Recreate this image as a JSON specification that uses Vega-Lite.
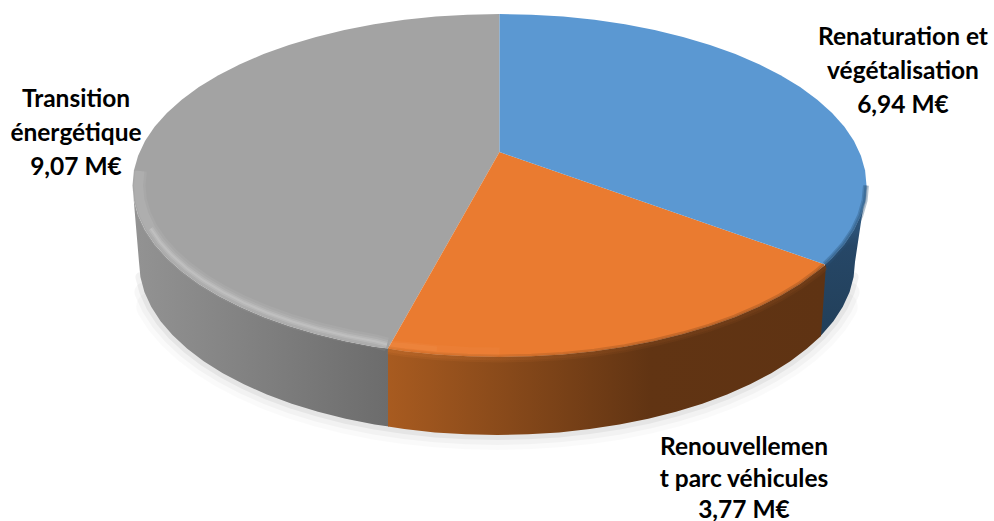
{
"$schema":"https://vega.github.io/schema/vega-lite/v6.json",
"width":994,"height":521,
"autosize":{"type":"none"},
"padding":0,
"background":"#ffffff",
"config":{"view":{"stroke":null}},
"datasets":{
"floor":[{"x":855,"y":262},{"x":853.6,"y":277.1},{"x":849.6,"y":292},{"x":842.8,"y":306.8},{"x":833.4,"y":321.2},{"x":821.5,"y":335.1},{"x":807,"y":348.5},{"x":790.3,"y":361.2},{"x":771.2,"y":373.2},{"x":750.1,"y":384.3},{"x":727.1,"y":394.5},{"x":702.3,"y":403.7},{"x":676,"y":411.8},{"x":648.3,"y":418.8},{"x":619.4,"y":424.6},{"x":589.7,"y":429.1},{"x":559.2,"y":432.4},{"x":528.2,"y":434.3},{"x":497,"y":435},{"x":465.8,"y":434.3},{"x":434.8,"y":432.4},{"x":404.3,"y":429.1},{"x":374.6,"y":424.6},{"x":345.7,"y":418.8},{"x":318,"y":411.8},{"x":291.7,"y":403.7},{"x":266.9,"y":394.5},{"x":243.9,"y":384.3},{"x":222.8,"y":373.2},{"x":203.7,"y":361.2},{"x":187,"y":348.5},{"x":172.5,"y":335.1},{"x":160.6,"y":321.2},{"x":151.2,"y":306.8},{"x":144.4,"y":292},{"x":140.4,"y":277.1},{"x":139,"y":262}],
"greyWall":[{"x":132.5,"y":185.5},{"x":133.9,"y":200.4},{"x":138.1,"y":215.3},{"x":145,"y":229.9},{"x":154.6,"y":244.2},{"x":166.9,"y":258},{"x":181.7,"y":271.3},{"x":198.9,"y":283.9},{"x":218.4,"y":295.7},{"x":240,"y":306.8},{"x":263.6,"y":316.9},{"x":289,"y":326},{"x":316,"y":334},{"x":344.4,"y":340.9},{"x":374,"y":346.7},{"x":389,"y":348.5},{"x":389,"y":426.5},{"x":374.6,"y":424.6},{"x":345.7,"y":418.8},{"x":318,"y":411.8},{"x":291.7,"y":403.7},{"x":266.9,"y":394.5},{"x":243.9,"y":384.3},{"x":222.8,"y":373.2},{"x":203.7,"y":361.2},{"x":187,"y":348.5},{"x":172.5,"y":335.1},{"x":160.6,"y":321.2},{"x":151.2,"y":306.8},{"x":144.4,"y":292},{"x":140.4,"y":277.1},{"x":139,"y":262}],
"orangeWall":[{"x":388,"y":348.5},{"x":404.5,"y":351.2},{"x":435.8,"y":354.4},{"x":467.5,"y":356.3},{"x":499.5,"y":357},{"x":531.5,"y":356.3},{"x":563.2,"y":354.4},{"x":594.5,"y":351.2},{"x":625,"y":346.7},{"x":654.6,"y":340.9},{"x":683,"y":334},{"x":710,"y":326},{"x":735.4,"y":316.9},{"x":759,"y":306.8},{"x":780.6,"y":295.7},{"x":800.1,"y":283.9},{"x":817.3,"y":271.3},{"x":826,"y":264.5},{"x":821,"y":336},{"x":807,"y":348.5},{"x":790.3,"y":361.2},{"x":771.2,"y":373.2},{"x":750.1,"y":384.3},{"x":727.1,"y":394.5},{"x":702.3,"y":403.7},{"x":676,"y":411.8},{"x":648.3,"y":418.8},{"x":619.4,"y":424.6},{"x":589.7,"y":429.1},{"x":559.2,"y":432.4},{"x":528.2,"y":434.3},{"x":497,"y":435},{"x":465.8,"y":434.3},{"x":434.8,"y":432.4},{"x":404.3,"y":429.1},{"x":388,"y":426.5}],
"blueWall":[{"x":866.5,"y":185.5},{"x":865.1,"y":200.4},{"x":860.9,"y":215.3},{"x":854,"y":229.9},{"x":844.4,"y":244.2},{"x":832.1,"y":258},{"x":825,"y":264.5},{"x":820,"y":336},{"x":821.5,"y":335.1},{"x":833.4,"y":321.2},{"x":842.8,"y":306.8},{"x":849.6,"y":292},{"x":853.6,"y":277.1},{"x":855,"y":262}],
"topBlue":[{"x":499.5,"y":152},{"x":499.5,"y":14},{"x":531.5,"y":14.7},{"x":563.2,"y":16.6},{"x":594.5,"y":19.8},{"x":625,"y":24.3},{"x":654.6,"y":30.1},{"x":683,"y":37},{"x":710,"y":45},{"x":735.4,"y":54.1},{"x":759,"y":64.2},{"x":780.6,"y":75.3},{"x":800.1,"y":87.1},{"x":817.3,"y":99.7},{"x":832.1,"y":113},{"x":844.4,"y":126.8},{"x":854,"y":141.1},{"x":860.9,"y":155.7},{"x":865.1,"y":170.6},{"x":866.5,"y":185.5},{"x":865.1,"y":200.4},{"x":860.9,"y":215.3},{"x":854,"y":229.9},{"x":844.4,"y":244.2},{"x":832.1,"y":258},{"x":825,"y":264.5}],
"topOrange":[{"x":499.5,"y":152},{"x":825,"y":264.5},{"x":817.3,"y":271.3},{"x":800.1,"y":283.9},{"x":780.6,"y":295.7},{"x":759,"y":306.8},{"x":735.4,"y":316.9},{"x":710,"y":326},{"x":683,"y":334},{"x":654.6,"y":340.9},{"x":625,"y":346.7},{"x":594.5,"y":351.2},{"x":563.2,"y":354.4},{"x":531.5,"y":356.3},{"x":499.5,"y":357},{"x":467.5,"y":356.3},{"x":435.8,"y":354.4},{"x":404.5,"y":351.2},{"x":388,"y":348.5}],
"topGrey":[{"x":499.5,"y":152},{"x":388,"y":348.5},{"x":374,"y":346.7},{"x":344.4,"y":340.9},{"x":316,"y":334},{"x":289,"y":326},{"x":263.6,"y":316.9},{"x":240,"y":306.8},{"x":218.4,"y":295.7},{"x":198.9,"y":283.9},{"x":181.7,"y":271.3},{"x":166.9,"y":258},{"x":154.6,"y":244.2},{"x":145,"y":229.9},{"x":138.1,"y":215.3},{"x":133.9,"y":200.4},{"x":132.5,"y":185.5},{"x":133.9,"y":170.6},{"x":138.1,"y":155.7},{"x":145,"y":141.1},{"x":154.6,"y":126.8},{"x":166.9,"y":113},{"x":181.7,"y":99.7},{"x":198.9,"y":87.1},{"x":218.4,"y":75.3},{"x":240,"y":64.2},{"x":263.6,"y":54.1},{"x":289,"y":45},{"x":316,"y":37},{"x":344.4,"y":30.1},{"x":374,"y":24.3},{"x":404.5,"y":19.8},{"x":435.8,"y":16.6},{"x":467.5,"y":14.7},{"x":499.5,"y":14}],
"greyBevel":[{"x":387,"y":344.5},{"x":376,"y":341.5},{"x":346.9,"y":335.9},{"x":319,"y":329.3},{"x":292.4,"y":321.5},{"x":267.4,"y":312.7},{"x":244.2,"y":302.9},{"x":223,"y":292.2},{"x":203.8,"y":280.7},{"x":186.9,"y":268.5},{"x":172.3,"y":255.6},{"x":160.3,"y":242.3},{"x":150.8,"y":228.5},{"x":144,"y":214.3},{"x":139.9,"y":200},{"x":138.5,"y":185.5},{"x":139.9,"y":171}],
"greyBevelCore":[{"x":387,"y":344.5},{"x":376,"y":341.5},{"x":346.9,"y":335.9},{"x":319,"y":329.3},{"x":292.4,"y":321.5},{"x":267.4,"y":312.7},{"x":244.2,"y":302.9},{"x":223,"y":292.2},{"x":203.8,"y":280.7},{"x":186.9,"y":268.5},{"x":172.3,"y":255.6},{"x":160.3,"y":242.3},{"x":150.8,"y":228.5}],
"orangeBevel":[{"x":389,"y":344.5},{"x":406.1,"y":345.8},{"x":436.8,"y":349},{"x":468,"y":350.9},{"x":499.5,"y":351.5}],
"orangeBevelCore":[{"x":389,"y":344.5},{"x":406.1,"y":345.8},{"x":436.8,"y":349}],
"orangeRim":[{"x":388,"y":350},{"x":404.5,"y":352.7},{"x":435.8,"y":355.9},{"x":467.5,"y":357.8},{"x":499.5,"y":358.5},{"x":531.5,"y":357.8},{"x":563.2,"y":355.9},{"x":594.5,"y":352.7},{"x":625,"y":348.2},{"x":654.6,"y":342.4},{"x":683,"y":335.5},{"x":710,"y":327.5},{"x":735.4,"y":318.4},{"x":759,"y":308.3},{"x":780.6,"y":297.2},{"x":800.1,"y":285.4},{"x":817.3,"y":272.8},{"x":825,"y":266}],
"blueRim":[{"x":866,"y":185.5},{"x":864.6,"y":200.4},{"x":860.4,"y":215.3},{"x":853.5,"y":229.9},{"x":843.9,"y":244.2},{"x":831.6,"y":258},{"x":825,"y":264.5}],
"labels":[
{"label":"Renaturation et","x":903,"y":37.5},{"label":"végétalisation","x":903,"y":71.5},{"label":"6,94 M€","x":903,"y":105.5},
{"label":"Transition","x":76,"y":99.5},{"label":"énergétique","x":76,"y":133.5},{"label":"9,07 M€","x":76,"y":167.5},
{"label":"Renouvellemen","x":744,"y":447.5},{"label":"t parc véhicules","x":744,"y":479.5},{"label":"3,77 M€","x":744,"y":510.5}
]
},
"encoding":{
"x":{"field":"x","type":"quantitative","scale":{"domain":[0,994],"nice":false,"zero":false},"axis":null},
"y":{"field":"y","type":"quantitative","scale":{"domain":[521,0],"nice":false,"zero":false},"axis":null},
"order":{"field":"seq","type":"quantitative"}
},
"layer":[
{"data":{"name":"floor"},"transform":[{"filter":"datum.y>=300"},{"window":[{"op":"row_number","as":"seq"}]}],"mark":{"type":"line","stroke":"#000000","strokeWidth":30,"opacity":0.018,"strokeCap":"round"}},
{"data":{"name":"floor"},"transform":[{"filter":"datum.y>=285"},{"window":[{"op":"row_number","as":"seq"}]}],"mark":{"type":"line","stroke":"#000000","strokeWidth":20,"opacity":0.03,"strokeCap":"round"}},
{"data":{"name":"floor"},"transform":[{"filter":"datum.y>=270"},{"window":[{"op":"row_number","as":"seq"}]}],"mark":{"type":"line","stroke":"#000000","strokeWidth":10,"opacity":0.05,"strokeCap":"round"}},
{"data":{"name":"greyWall"},"transform":[{"window":[{"op":"row_number","as":"seq"}]}],"mark":{"type":"line","strokeWidth":0,"stroke":"transparent","fill":{"gradient":"linear","x1":0,"y1":0,"x2":1,"y2":0,"stops":[{"offset":0,"color":"#939393"},{"offset":1,"color":"#6c6c6c"}]}}},
{"data":{"name":"blueWall"},"transform":[{"window":[{"op":"row_number","as":"seq"}]}],"mark":{"type":"line","strokeWidth":0,"stroke":"transparent","fill":{"gradient":"linear","x1":0,"y1":0,"x2":0,"y2":1,"stops":[{"offset":0,"color":"#3d70a0"},{"offset":0.4,"color":"#264767"},{"offset":1,"color":"#223f59"}]}}},
{"data":{"name":"orangeWall"},"transform":[{"window":[{"op":"row_number","as":"seq"}]}],"mark":{"type":"line","strokeWidth":0,"stroke":"transparent","fill":{"gradient":"linear","x1":0,"y1":0,"x2":1,"y2":0,"stops":[{"offset":0,"color":"#a85b20"},{"offset":0.6,"color":"#613413"},{"offset":1,"color":"#5f3313"}]}}},
{"data":{"name":"topGrey"},"transform":[{"window":[{"op":"row_number","as":"seq"}]}],"mark":{"type":"line","strokeWidth":0,"stroke":"transparent","fill":"#a3a3a3"}},
{"data":{"name":"topOrange"},"transform":[{"window":[{"op":"row_number","as":"seq"}]}],"mark":{"type":"line","strokeWidth":0,"stroke":"transparent","fill":"#ea7b30"}},
{"data":{"name":"topBlue"},"transform":[{"window":[{"op":"row_number","as":"seq"}]}],"mark":{"type":"line","strokeWidth":0,"stroke":"transparent","fill":"#5b98d2"}},
{"data":{"name":"orangeRim"},"transform":[{"window":[{"op":"row_number","as":"seq"}]}],"mark":{"type":"line","strokeWidth":8,"opacity":0.3,"stroke":{"gradient":"linear","x1":0,"y1":0,"x2":1,"y2":0,"stops":[{"offset":0,"color":"#c46c2a"},{"offset":0.6,"color":"#7a421a"},{"offset":1,"color":"#7a421a"}]}}},
{"data":{"name":"orangeRim"},"transform":[{"window":[{"op":"row_number","as":"seq"}]}],"mark":{"type":"line","strokeWidth":4,"opacity":0.4,"stroke":{"gradient":"linear","x1":0,"y1":0,"x2":1,"y2":0,"stops":[{"offset":0,"color":"#c46c2a"},{"offset":0.6,"color":"#7a421a"},{"offset":1,"color":"#7a421a"}]}}},
{"data":{"name":"blueRim"},"transform":[{"window":[{"op":"row_number","as":"seq"}]}],"mark":{"type":"line","stroke":"#2b5277","strokeWidth":6,"opacity":0.35}},
{"data":{"name":"blueRim"},"transform":[{"window":[{"op":"row_number","as":"seq"}]}],"mark":{"type":"line","stroke":"#2b5277","strokeWidth":3,"opacity":0.4}},
{"data":{"name":"greyBevel"},"transform":[{"window":[{"op":"row_number","as":"seq"}]}],"mark":{"type":"line","stroke":"#ffffff","strokeWidth":14,"opacity":0.06}},
{"data":{"name":"greyBevel"},"transform":[{"window":[{"op":"row_number","as":"seq"}]}],"mark":{"type":"line","stroke":"#ffffff","strokeWidth":9,"opacity":0.08}},
{"data":{"name":"greyBevelCore"},"transform":[{"window":[{"op":"row_number","as":"seq"}]}],"mark":{"type":"line","stroke":"#ffffff","strokeWidth":5,"opacity":0.12}},
{"data":{"name":"greyBevelCore"},"transform":[{"window":[{"op":"row_number","as":"seq"}]}],"mark":{"type":"line","stroke":"#ffffff","strokeWidth":2,"opacity":0.12}},
{"data":{"name":"orangeBevel"},"transform":[{"window":[{"op":"row_number","as":"seq"}]}],"mark":{"type":"line","stroke":"#ffc090","strokeWidth":8,"opacity":0.06}},
{"data":{"name":"orangeBevelCore"},"transform":[{"window":[{"op":"row_number","as":"seq"}]}],"mark":{"type":"line","stroke":"#ffc090","strokeWidth":5,"opacity":0.08}},
{"data":{"name":"labels"},"transform":[{"window":[{"op":"row_number","as":"seq"}]}],"mark":{"type":"text","font":"Lato","fontWeight":"bold","fontSize":24.5,"color":"#000000","align":"center","baseline":"middle"},"encoding":{"text":{"field":"label","type":"nominal"}}}
]
}
